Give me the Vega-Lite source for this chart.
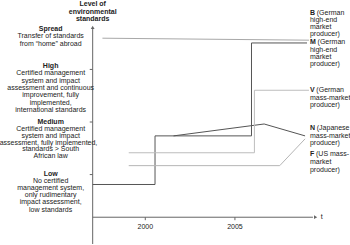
{
  "$schema": "https://vega.github.io/schema/vega-lite/v6.json",
  "width": 350,
  "height": 245,
  "padding": 0,
  "autosize": {"type": "fit", "contains": "padding"},
  "config": {"view": {"stroke": null}, "text": {"font": "Liberation Sans", "fontSize": 7, "color": "#222"}},
  "datasets": {
    "rules": [
      {"x": 1997.065, "x2": 1997.065, "y": -27, "y2": 190},
      {"x": 1997.065, "x2": 2009.35, "y": 0, "y2": 0},
      {"x": 1996.902, "x2": 1997.065, "y": 149, "y2": 149},
      {"x": 1996.902, "x2": 1997.065, "y": 96, "y2": 96},
      {"x": 1996.902, "x2": 1997.065, "y": 43, "y2": 43},
      {"x": 2000, "x2": 2000, "y": 0, "y2": -3},
      {"x": 2005, "x2": 2005, "y": 0, "y2": -3}
    ],
    "arrows": [
      {"x": 1997.065, "y": 191.5, "shape": "triangle-up"},
      {"x": 2009.5, "y": 0, "shape": "triangle-right"}
    ],
    "lines": [
      {"s": "B", "o": 1, "x": 1997.609, "y": 180.5},
      {"s": "B", "o": 2, "x": 2009.13, "y": 178.5},
      {"s": "M", "o": 1, "x": 1997.065, "y": 33},
      {"s": "M", "o": 2, "x": 2000.543, "y": 33},
      {"s": "M", "o": 3, "x": 2000.543, "y": 82},
      {"s": "M", "o": 4, "x": 2005.924, "y": 82},
      {"s": "M", "o": 5, "x": 2005.924, "y": 175.7},
      {"s": "M", "o": 6, "x": 2009.022, "y": 175.7},
      {"s": "N", "o": 1, "x": 2001.576, "y": 82},
      {"s": "N", "o": 2, "x": 2006.63, "y": 94},
      {"s": "N", "o": 3, "x": 2008.913, "y": 82},
      {"s": "V", "o": 1, "x": 1999.076, "y": 65},
      {"s": "V", "o": 2, "x": 2006.087, "y": 65},
      {"s": "V", "o": 3, "x": 2006.087, "y": 128},
      {"s": "V", "o": 4, "x": 2009.13, "y": 128},
      {"s": "F", "o": 1, "x": 1999.076, "y": 52},
      {"s": "F", "o": 2, "x": 2007.5, "y": 52},
      {"s": "F", "o": 3, "x": 2008.913, "y": 79}
    ],
    "texts": [
      {"t": "Level of", "x": 1997.065, "y": 214.7, "w": "bold", "a": "center"},
      {"t": "environmental", "x": 1997.065, "y": 207.2, "w": "bold", "a": "center"},
      {"t": "standards", "x": 1997.065, "y": 199.7, "w": "bold", "a": "center"},
      {"t": "Spread", "x": 1994.72, "y": 190, "w": "bold", "a": "center"},
      {"t": "Transfer of standards", "x": 1994.72, "y": 182.5, "w": "normal", "a": "center"},
      {"t": "from “home” abroad", "x": 1994.72, "y": 175, "w": "normal", "a": "center"},
      {"t": "High", "x": 1994.72, "y": 152.3, "w": "bold", "a": "center"},
      {"t": "Certified management", "x": 1994.72, "y": 145, "w": "normal", "a": "center"},
      {"t": "system and impact", "x": 1994.72, "y": 137.5, "w": "normal", "a": "center"},
      {"t": "assessment and continuous", "x": 1994.72, "y": 130, "w": "normal", "a": "center"},
      {"t": "improvement, fully", "x": 1994.72, "y": 123, "w": "normal", "a": "center"},
      {"t": "implemented,", "x": 1994.72, "y": 115.5, "w": "normal", "a": "center"},
      {"t": "international standards", "x": 1994.72, "y": 108, "w": "normal", "a": "center"},
      {"t": "Medium", "x": 1994.72, "y": 96, "w": "bold", "a": "center"},
      {"t": "Certified management", "x": 1994.72, "y": 89, "w": "normal", "a": "center"},
      {"t": "system and impact", "x": 1994.72, "y": 82, "w": "normal", "a": "center"},
      {"t": "assessment, fully implemented,", "x": 1994.6, "y": 75, "w": "normal", "a": "center"},
      {"t": "standards > South", "x": 1994.72, "y": 68.5, "w": "normal", "a": "center"},
      {"t": "African law", "x": 1994.72, "y": 62, "w": "normal", "a": "center"},
      {"t": "Low", "x": 1994.72, "y": 44, "w": "bold", "a": "center"},
      {"t": "No certified", "x": 1994.72, "y": 37, "w": "normal", "a": "center"},
      {"t": "management system,", "x": 1994.72, "y": 29.5, "w": "normal", "a": "center"},
      {"t": "only rudimentary", "x": 1994.72, "y": 22.5, "w": "normal", "a": "center"},
      {"t": "impact assessment,", "x": 1994.72, "y": 15, "w": "normal", "a": "center"},
      {"t": "low standards", "x": 1994.72, "y": 7.5, "w": "normal", "a": "center"},
      {"t": "2000", "x": 2000, "y": -10, "w": "normal", "a": "center"},
      {"t": "2005", "x": 2005, "y": -10, "w": "normal", "a": "center"},
      {"t": "t", "x": 2009.783, "y": 0, "w": "normal", "a": "left"},
      {"t": "B", "x": 2009.185, "y": 206.3, "w": "bold", "a": "left"},
      {"t": "(German", "x": 2009.565, "y": 206.3, "w": "normal", "a": "left"},
      {"t": "high-end", "x": 2009.185, "y": 198.7, "w": "normal", "a": "left"},
      {"t": "market", "x": 2009.185, "y": 191.3, "w": "normal", "a": "left"},
      {"t": "producer)", "x": 2009.185, "y": 184.5, "w": "normal", "a": "left"},
      {"t": "M", "x": 2009.185, "y": 176.3, "w": "bold", "a": "left"},
      {"t": "(German", "x": 2009.609, "y": 176.3, "w": "normal", "a": "left"},
      {"t": "high-end", "x": 2009.185, "y": 169, "w": "normal", "a": "left"},
      {"t": "market", "x": 2009.185, "y": 161.5, "w": "normal", "a": "left"},
      {"t": "producer)", "x": 2009.185, "y": 154.5, "w": "normal", "a": "left"},
      {"t": "V", "x": 2009.185, "y": 128, "w": "bold", "a": "left"},
      {"t": "(German", "x": 2009.543, "y": 128, "w": "normal", "a": "left"},
      {"t": "mass-market", "x": 2009.185, "y": 120.7, "w": "normal", "a": "left"},
      {"t": "producer)", "x": 2009.185, "y": 113.4, "w": "normal", "a": "left"},
      {"t": "N", "x": 2009.185, "y": 89.7, "w": "bold", "a": "left"},
      {"t": "(Japanese", "x": 2009.565, "y": 89.7, "w": "normal", "a": "left"},
      {"t": "mass-market", "x": 2009.185, "y": 82.3, "w": "normal", "a": "left"},
      {"t": "producer)", "x": 2009.185, "y": 74.7, "w": "normal", "a": "left"},
      {"t": "F", "x": 2009.185, "y": 63.7, "w": "bold", "a": "left"},
      {"t": "(US mass-", "x": 2009.522, "y": 63.7, "w": "normal", "a": "left"},
      {"t": "market", "x": 2009.185, "y": 55.7, "w": "normal", "a": "left"},
      {"t": "producer)", "x": 2009.185, "y": 48, "w": "normal", "a": "left"}
    ]
  },
  "resolve": {"scale": {"color": "independent"}},
  "layer": [
    {
      "data": {"name": "rules"},
      "mark": {"type": "rule", "color": "#666", "strokeWidth": 1},
      "encoding": {
        "x": {"field": "x", "type": "quantitative", "scale": {"domain": [1992.174, 2011.196], "nice": false, "zero": false}, "axis": null},
        "x2": {"field": "x2"},
        "y": {"field": "y", "type": "quantitative", "scale": {"domain": [-27, 218], "nice": false, "zero": false}, "axis": null},
        "y2": {"field": "y2"}
      }
    },
    {
      "data": {"name": "arrows"},
      "mark": {"type": "point", "filled": true, "color": "#666", "size": 14, "opacity": 1},
      "encoding": {
        "x": {"field": "x", "type": "quantitative"},
        "y": {"field": "y", "type": "quantitative"},
        "shape": {"field": "shape", "type": "nominal", "scale": null}
      }
    },
    {
      "data": {"name": "lines"},
      "mark": {"type": "line", "strokeWidth": 1, "interpolate": "linear"},
      "encoding": {
        "x": {"field": "x", "type": "quantitative"},
        "y": {"field": "y", "type": "quantitative"},
        "order": {"field": "o", "type": "quantitative"},
        "detail": {"field": "s", "type": "nominal"},
        "color": {"field": "s", "type": "nominal", "legend": null, "scale": {"domain": ["B", "M", "N", "V", "F"], "range": ["#a8a8a8", "#555555", "#555555", "#bdbdbd", "#b5b5b5"]}}
      }
    },
    {
      "data": {"name": "texts"},
      "transform": [{"filter": "datum.w === 'normal' && datum.a === 'center'"}],
      "mark": {"type": "text", "align": "center", "baseline": "middle"},
      "encoding": {
        "x": {"field": "x", "type": "quantitative"},
        "y": {"field": "y", "type": "quantitative"},
        "text": {"field": "t", "type": "nominal"}
      }
    },
    {
      "data": {"name": "texts"},
      "transform": [{"filter": "datum.w === 'bold' && datum.a === 'center'"}],
      "mark": {"type": "text", "align": "center", "baseline": "middle", "fontWeight": "bold"},
      "encoding": {
        "x": {"field": "x", "type": "quantitative"},
        "y": {"field": "y", "type": "quantitative"},
        "text": {"field": "t", "type": "nominal"}
      }
    },
    {
      "data": {"name": "texts"},
      "transform": [{"filter": "datum.w === 'normal' && datum.a === 'left'"}],
      "mark": {"type": "text", "align": "left", "baseline": "middle"},
      "encoding": {
        "x": {"field": "x", "type": "quantitative"},
        "y": {"field": "y", "type": "quantitative"},
        "text": {"field": "t", "type": "nominal"}
      }
    },
    {
      "data": {"name": "texts"},
      "transform": [{"filter": "datum.w === 'bold' && datum.a === 'left'"}],
      "mark": {"type": "text", "align": "left", "baseline": "middle", "fontWeight": "bold"},
      "encoding": {
        "x": {"field": "x", "type": "quantitative"},
        "y": {"field": "y", "type": "quantitative"},
        "text": {"field": "t", "type": "nominal"}
      }
    }
  ]
}
